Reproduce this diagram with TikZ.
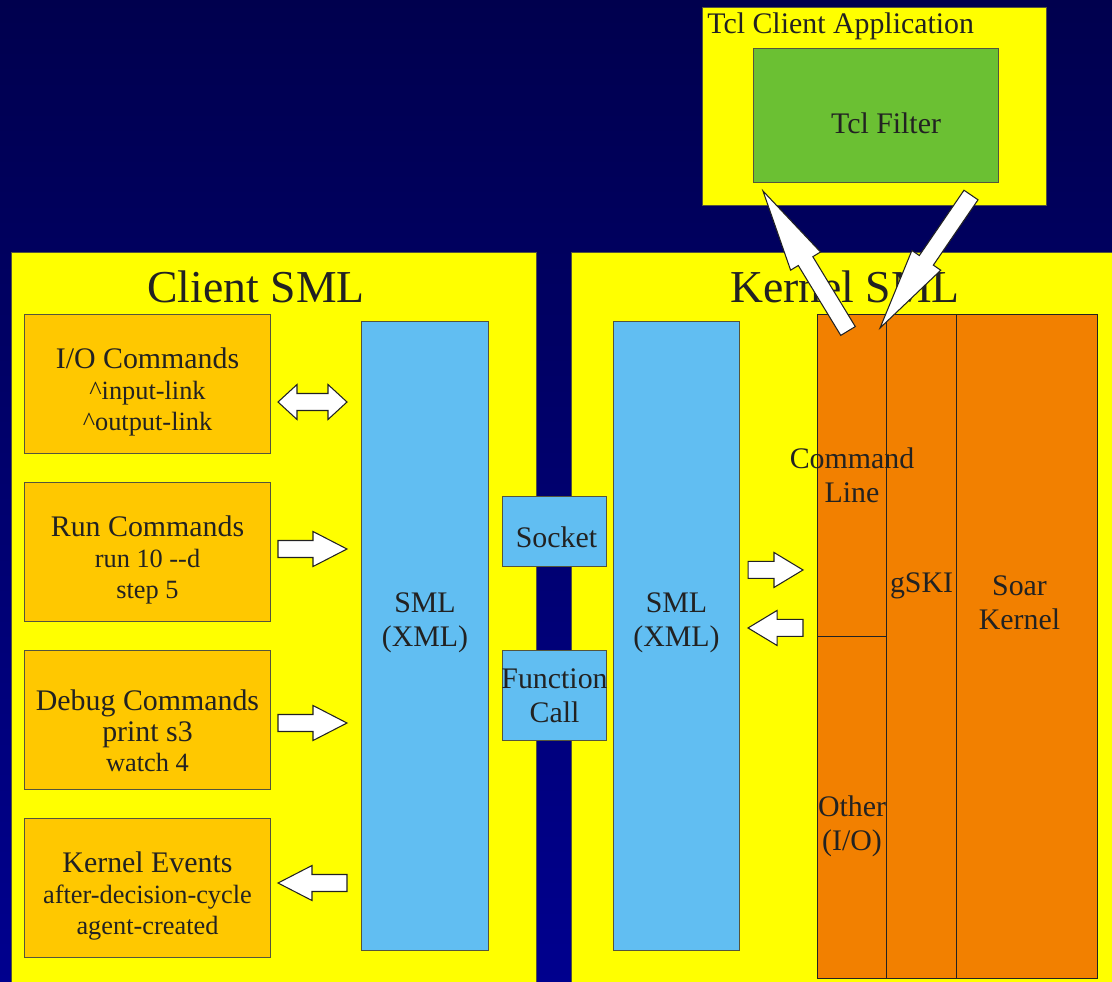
\documentclass[tikz,border=0pt]{standalone}
\usepackage{fontspec}
\setmainfont{Liberation Serif}
\usetikzlibrary{positioning, calc}

\definecolor{bgtop}{RGB}{0,0,78}
\definecolor{bgbot}{RGB}{0,0,142}
\definecolor{panelyellow}{RGB}{255,255,0}
\definecolor{cmdorange}{RGB}{255,200,0}
\definecolor{smlblue}{RGB}{97,190,242}
\definecolor{filtergreen}{RGB}{107,192,51}
\definecolor{kernorange}{RGB}{242,128,0}
\definecolor{inkgray}{RGB}{34,34,34}
\definecolor{edgegray}{RGB}{85,85,60}

\newcommand{\subfont}{\fontsize{15}{17.5}\selectfont}
\newcommand{\arrshaft}{0.17cm}
\newcommand{\arrhead}{0.35cm}

% outlined block arrow from #2 (tail) to #3 (tip), #1 = head length
\newcommand{\blockarrow}[3][0.68cm]{%
  \coordinate (ah) at ($(#3)!#1!(#2)$);
  \filldraw[arrowbody] ($(#2)!\arrshaft!90:(#3)$) -- ($(ah)!\arrshaft!90:(#3)$)
    -- ($(ah)!\arrhead!90:(#3)$) -- (#3) -- ($(ah)!\arrhead!-90:(#3)$)
    -- ($(ah)!\arrshaft!-90:(#3)$) -- ($(#2)!\arrshaft!-90:(#3)$) -- cycle;}
\newcommand{\dblarrow}[3][0.38cm]{%
  \coordinate (ah1) at ($(#2)!#1!(#3)$);
  \coordinate (ah2) at ($(#3)!#1!(#2)$);
  \filldraw[arrowbody] (#2) -- ($(ah1)!\arrhead!90:(#3)$) -- ($(ah1)!\arrshaft!90:(#3)$)
    -- ($(ah2)!\arrshaft!90:(#3)$) -- ($(ah2)!\arrhead!90:(#3)$) -- (#3)
    -- ($(ah2)!\arrhead!-90:(#3)$) -- ($(ah2)!\arrshaft!-90:(#3)$)
    -- ($(ah1)!\arrshaft!-90:(#3)$) -- ($(ah1)!\arrhead!-90:(#3)$) -- cycle;}

\tikzset{
  panel/.style={draw=edgegray, fill=panelyellow, line width=0.6pt, anchor=north west, inner sep=0pt},
  cmdbox/.style={draw=edgegray, fill=cmdorange, line width=0.6pt, anchor=north west, inner sep=0pt,
    minimum width=4.92cm, minimum height=2.78cm},
  smlbar/.style={draw=edgegray, fill=smlblue, line width=0.6pt, anchor=north west, inner sep=0pt},
  kbox/.style={draw=inkgray, fill=kernorange, line width=0.6pt, anchor=north west, inner sep=0pt},
  txt/.style={text=inkgray, font=\fontsize{17}{19.3}\selectfont, align=center, inner sep=0pt},
  cmdtxt/.style={txt, font=\fontsize{17}{17.5}\selectfont, yshift=-0.16cm},
  title/.style={text=inkgray, font=\fontsize{26}{30}\selectfont, inner sep=0pt},
  arrowbody/.style={draw=inkgray, fill=white, line width=0.6pt, line join=miter},
}

\begin{document}
\begin{tikzpicture}[x=0.02cm, y=-0.02cm]
  \useasboundingbox (0,0) rectangle (1112,982);
  \shade[top color=bgtop, bottom color=bgbot] (0,0) rectangle (1112,982);
  \clip (0,0) rectangle (1112,982);

  % panels
  \node[panel, minimum width=10.5cm, minimum height=14.9cm] (client) at (11,252) {};
  \node[panel, minimum width=11.2cm, minimum height=14.9cm] (kernel) at (571,252) {};
  \node[panel, minimum width=6.88cm, minimum height=3.96cm] (tclapp) at (702,7) {};
  \node[title] (clienttitle) at (256,287) {Client SML};
  \node[title] (kerneltitle) at (845,287) {Kernel SML};
  \node[txt, anchor=base west] (tcltitle) at (707,34) {Tcl Client Application};
  \node[panel, draw=edgegray, fill=filtergreen, minimum width=4.9cm, minimum height=2.68cm,
    label={[txt, xshift=0.2cm, yshift=-0.16cm]center:Tcl Filter}] (tclfilter) at (753,48) {};

  % client side
  \node[cmdbox, label={[cmdtxt]center:I/O Commands\\\subfont\textasciicircum input-link\\\subfont\textasciicircum output-link}] (io) at (24,314) {};
  \node[cmdbox, label={[cmdtxt]center:Run Commands\\\subfont run 10 -{}-d\\\subfont step 5}] (run) at (24,482) {};
  \node[cmdbox, label={[cmdtxt, yshift=-0.06cm]center:Debug Commands\\print s3\\\subfont watch 4}] (debug) at (24,650) {};
  \node[cmdbox, label={[cmdtxt]center:Kernel Events\\\subfont after-decision-cycle\\\subfont agent-created}] (events) at (24,818) {};
  \node[smlbar, minimum width=2.54cm, minimum height=12.58cm,
    label={[txt, yshift=0.26cm]center:SML\\(XML)}] (smlL) at (361,321) {};

  % transport
  \node[smlbar, minimum width=2.08cm, minimum height=1.4cm,
    label={[txt, xshift=0.04cm, yshift=-0.12cm]center:Socket}] (socket) at (502,496) {};
  \node[smlbar, minimum width=2.08cm, minimum height=1.8cm,
    label={[txt]center:Function\\Call}] (funcall) at (502,650) {};

  % kernel side
  \node[smlbar, minimum width=2.52cm, minimum height=12.58cm,
    label={[txt, yshift=0.26cm]center:SML\\(XML)}] (smlR) at (613,321) {};
  \node[kbox, minimum width=1.4cm, minimum height=13.28cm,
    label={[txt, yshift=1.22cm]center:gSKI}] (gski) at (886,314) {};
  \node[kbox, minimum width=2.82cm, minimum height=13.28cm,
    label={[txt, xshift=-0.15cm, yshift=0.88cm]center:Soar\\Kernel}] (soar) at (956,314) {};
  \node[kbox, minimum width=1.38cm, minimum height=6.44cm] (cmdline) at (817,314) {};
  \node[kbox, minimum width=1.38cm, minimum height=6.84cm] (otherio) at (817,636) {};
  \node[txt] (cmdtext) at (cmdline) {Command\\Line};
  \node[txt, yshift=-0.38cm] (othertext) at (otherio) {Other\\(I/O)};

  % arrow ends
  \coordinate (ioA) at ($(io.east)+(7,18)$);
  \coordinate (ioB) at ($(ioA -| smlL.west)+(-14,0)$);
  \coordinate (runA) at ($(run.east)+(7,-3)$);
  \coordinate (runB) at ($(runA -| smlL.west)+(-14,0)$);
  \coordinate (dbgA) at ($(debug.east)+(7,3)$);
  \coordinate (dbgB) at ($(dbgA -| smlL.west)+(-14,0)$);
  \coordinate (evtA) at ($(events.east)+(7,-5)$);
  \coordinate (evtB) at ($(evtA -| smlL.west)+(-14,0)$);
  \coordinate (krnA) at ($(smlR.east)+(8,-66)$);
  \coordinate (krnB) at ($(krnA -| cmdline.west)+(-14,0)$);
  \coordinate (krnC) at ($(smlR.east)+(8,-8)$);
  \coordinate (krnD) at ($(krnC -| cmdline.west)+(-14,0)$);
  \coordinate (upA) at ($(cmdline.north)+(-4,17)$);
  \coordinate (upB) at ($(tclfilter.south west)+(10,8)$);
  \coordinate (dnA) at ($(tclfilter.south east)+(-28,12)$);
  \coordinate (dnB) at ($(cmdline.north east)+(-7,14)$);

  \dblarrow{ioA}{ioB}
  \blockarrow{runA}{runB}
  \blockarrow{dbgA}{dbgB}
  \blockarrow{evtB}{evtA}
  \blockarrow[0.58cm]{krnA}{krnB}
  \blockarrow[0.58cm]{krnD}{krnC}
  \blockarrow[1.64cm]{upA}{upB}
  \blockarrow[1.64cm]{dnA}{dnB}
\end{tikzpicture}
\end{document}
